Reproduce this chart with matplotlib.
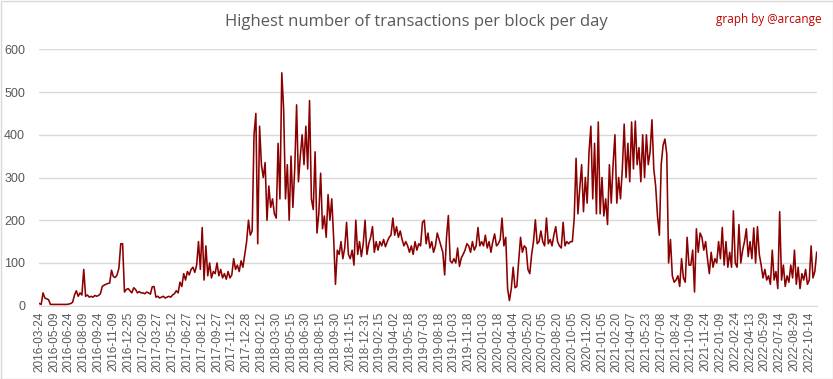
import numpy as np
import matplotlib.pyplot as plt
from matplotlib.patches import Rectangle

# x-axis labels, one every 46 days
tick_labels = [
    '2016-03-24', '2016-05-09', '2016-06-24', '2016-08-09', '2016-09-24', '2016-11-09',
    '2016-12-25', '2017-02-09', '2017-03-27', '2017-05-12', '2017-06-27', '2017-08-12',
    '2017-09-27', '2017-11-12', '2017-12-28', '2018-02-12', '2018-03-30', '2018-05-15',
    '2018-06-30', '2018-08-15', '2018-09-30', '2018-11-15', '2018-12-31', '2019-02-15',
    '2019-04-02', '2019-05-18', '2019-07-03', '2019-08-18', '2019-10-03', '2019-11-18',
    '2020-01-03', '2020-02-18', '2020-04-04', '2020-05-20', '2020-07-05', '2020-08-20',
    '2020-10-05', '2020-11-20', '2021-01-05', '2021-02-20', '2021-04-07', '2021-05-23',
    '2021-07-08', '2021-08-24', '2021-10-09', '2021-11-24', '2022-01-09', '2022-02-24',
    '2022-04-13', '2022-05-29', '2022-07-14', '2022-08-29', '2022-10-14',
]

# highest tx per block (8 samples per label interval)
tx_max = [
    5, 3, 30, 18, 16, 14, 3, 3,
    3, 3, 3, 3, 3, 3, 3, 3,
    4, 5, 8, 25, 35, 22, 30, 25,
    85, 22, 25, 20, 22, 20, 24, 22,
    24, 28, 45, 48, 50, 52, 53, 83,
    68, 66, 72, 88, 145, 145, 32, 38,
    40, 35, 30, 42, 38, 30, 33, 30,
    30, 28, 32, 30, 27, 44, 45, 20,
    22, 18, 20, 22, 18, 20, 22, 20,
    25, 28, 35, 30, 55, 45, 75, 60,
    80, 72, 85, 90, 78, 95, 150, 85,
    183, 60, 140, 70, 100, 65, 80, 75,
    100, 70, 85, 65, 75, 62, 80, 65,
    72, 110, 85, 95, 80, 105, 90, 120,
    150, 200, 165, 175, 400, 450, 145, 420,
    330, 300, 335, 200, 280, 230, 250, 215,
    205, 380, 250, 545, 460, 250, 330, 200,
    350, 230, 320, 470, 290, 350, 400, 330,
    420, 320, 480, 250, 225, 360, 170, 215,
    310, 180, 210, 160, 260, 200, 250, 160,
    50, 130, 120, 150, 110, 135, 195, 120,
    110, 130, 95, 200, 120, 150, 115, 145,
    200, 120, 145, 160, 185, 125, 150, 130,
    150, 140, 155, 138, 150, 160, 165, 205,
    165, 185, 160, 175, 155, 140, 150, 140,
    125, 140, 120, 150, 130, 145, 140, 195,
    200, 145, 170, 135, 150, 125, 140, 170,
    155, 140, 125, 72, 160, 211, 105, 100,
    110, 100, 135, 92, 112, 120, 130, 145,
    140, 125, 150, 130, 140, 183, 140, 150,
    140, 165, 135, 150, 125, 150, 168, 140,
    145, 155, 205, 140, 160, 40, 12, 40,
    90, 42, 45, 105, 160, 125, 140, 135,
    85, 75, 120, 150, 201, 145, 150, 175,
    150, 140, 205, 145, 155, 140, 165, 185,
    150, 140, 135, 195, 140, 150, 145, 150,
    150, 205, 345, 215, 275, 330, 220, 300,
    240, 360, 420, 250, 380, 215, 430, 215,
    300, 210, 250, 190, 330, 240, 330, 400,
    240, 300, 250, 320, 425, 300, 380, 290,
    430, 320, 432, 330, 370, 290, 400, 300,
    400, 330, 360, 435, 320, 280, 210, 165,
    330, 375, 390, 355, 100, 155, 70, 55,
    60, 70, 45, 110, 65, 55, 160, 95,
    95, 130, 32, 180, 125, 170, 160, 130,
    150, 110, 75, 125, 90, 110, 100, 150,
    110, 183, 95, 150, 90, 125, 90, 222,
    100, 90, 190, 100, 130, 150, 180, 115,
    150, 110, 182, 100, 185, 120, 95, 65,
    85, 60, 70, 50, 130, 60, 80, 40,
    220, 60, 95, 45, 70, 55, 95, 65,
    130, 50, 90, 40, 75, 60, 85, 50,
    60, 140, 65, 80, 125,
]

label_step = 46
x = np.arange(len(tx_max)) * label_step / 8

W, H = 833, 379
fig = plt.figure(figsize=(W / 100, H / 100), dpi=100)
ax = fig.add_axes([39 / W, 1 - 305.7 / H, (817 - 39) / W, (305.7 - 49.3) / H])

ax.plot(x, tx_max, color='#8B0000', lw=1.15)

ax.set_ylim(0, 600)
ax.set_xlim(-1, x[-1] + 1)
ax.set_yticks(range(0, 601, 100))
ax.grid(axis='y', color='#D9D9D9', lw=1)
ax.set_axisbelow(True)
ax.set_xticks(np.arange(len(tick_labels)) * label_step)
ax.set_xticklabels(tick_labels, rotation=90, fontsize=8.5, family='Liberation Sans')
for lab in ax.get_yticklabels():
    lab.set_family('Liberation Sans')
    lab.set_fontsize(9)
for s in ['top', 'right', 'left']:
    ax.spines[s].set_visible(False)
ax.spines['bottom'].set_color('#D9D9D9')
ax.tick_params(length=0, labelcolor='#595959')
ax.tick_params(axis='x', pad=4)
ax.tick_params(axis='y', pad=10)

fig.text(0.5, 1 - 22 / H, 'Highest number of transactions per block per day',
         ha='center', va='center', fontsize=12, color='#595959', family='Open Sans')
fig.text(822 / W, 1 - 20 / H, 'graph by @arcange', ha='right', va='center',
         fontsize=8.5, color='#C00000', family='Open Sans')

fig.patches.append(Rectangle((0.5 / W, 0.5 / H), 1 - 1 / W, 1 - 1 / H, transform=fig.transFigure,
                             fill=False, edgecolor='#D9D9D9', lw=1))

fig.savefig('out.png', dpi=100)
